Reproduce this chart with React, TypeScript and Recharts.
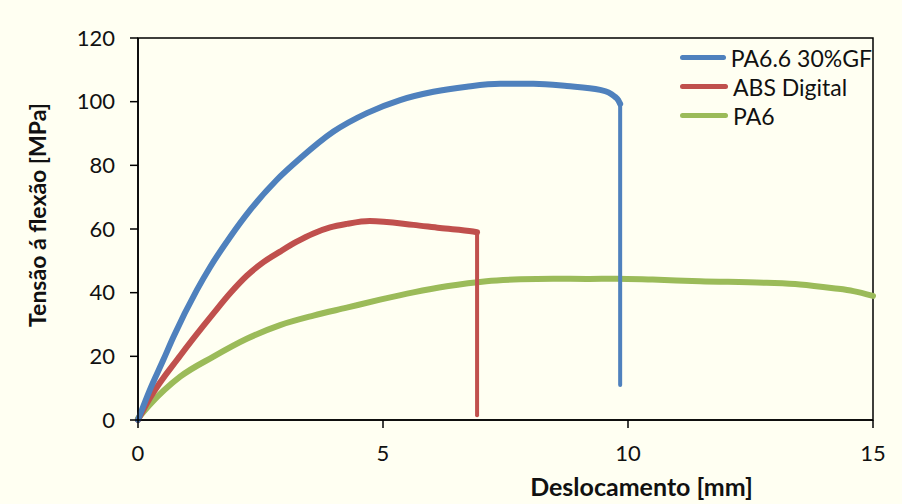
import React from 'react';
import { LineChart, Line, XAxis, YAxis, Label, Legend, ReferenceArea } from 'recharts';

const blueX = [0, 0.24, 0.52, 0.72, 1.2, 1.47, 1.88, 2.29, 2.83, 3.31, 3.99, 4.67, 5.35, 6.03, 6.71, 7.39, 8.07, 8.75, 9.43, 9.6, 9.72, 9.8, 9.84];
const blueY = [0, 9.4, 19, 26, 40.8, 48, 57.5, 66, 75.4, 82.2, 90.6, 96.4, 100.5, 103.1, 104.7, 105.6, 105.6, 104.9, 103.7, 102.9, 101.7, 100.5, 99.3];
const blueDropX = [9.84, 9.84];
const blueDropY = [99.3, 11];

const redX = [0, 0.24, 0.86, 1.54, 1.88, 2.22, 2.56, 2.9, 3.24, 3.58, 3.92, 4.26, 4.73, 5.62, 6.16, 6.84, 6.92];
const redY = [0, 6.8, 20.2, 33.5, 39.8, 45.3, 49.6, 52.9, 56, 58.6, 60.5, 61.6, 62.5, 61.3, 60.3, 59.2, 59];
const redDropX = [6.92, 6.92];
const redDropY = [59, 1.5];

const greenX = [0, 0.24, 0.86, 1.54, 2.22, 2.9, 3.58, 4.26, 4.94, 5.62, 6.3, 7.11, 7.8, 8.47, 9.16, 9.77, 10.5, 11.47, 12.83, 13.51, 14.19, 14.6, 15];
const greenY = [0.5, 4.8, 13.6, 19.9, 25.5, 29.8, 32.8, 35.3, 37.8, 40.1, 42, 43.6, 44.2, 44.4, 44.3, 44.4, 44.1, 43.6, 43.1, 42.6, 41.4, 40.5, 39];

const xTicks = [0, 5, 10, 15];
const yTicks = [0, 20, 40, 60, 80, 100, 120];

const seriesNames = ['PA6.6 30%GF', 'ABS Digital', 'PA6'];
const seriesColors = ['#4F81BD', '#C0504D', '#9BBB59'];

const toPoints = (xs: number[], ys: number[]) => xs.map((x, i) => ({ x, y: ys[i] }));

const FONT = 'Lato, "Noto Sans", sans-serif';

const renderLegend = () => (
  <div style={{ fontFamily: FONT, fontSize: 23, color: '#111', whiteSpace: 'nowrap' }}>
    {seriesNames.map((name, i) => (
      <div key={name} style={{ display: 'flex', alignItems: 'center', height: 29 }}>
        <span style={{ display: 'inline-block', width: 48, height: 5, borderRadius: 3, background: seriesColors[i], marginRight: 5 }} />
        <span>{name}</span>
      </div>
    ))}
  </div>
);

export default function App() {
  return (
    <div style={{ position: 'absolute', left: 0, top: 0, width: 902, height: 504, background: '#FFFFF2' }}>
      <LineChart width={902} height={504} margin={{ top: 38, right: 29, left: 0, bottom: 0 }}>
        <XAxis
          type="number"
          dataKey="x"
          domain={[0, 15]}
          ticks={xTicks}
          height={84}
          tickSize={8}
          tickMargin={17}
          axisLine={{ stroke: '#000', strokeWidth: 1.5 }}
          tickLine={{ stroke: '#000', strokeWidth: 1.5 }}
          tick={{ fill: '#111', fontSize: 22, fontFamily: FONT }}
        >
          <Label
            content={({ viewBox }: any) => (
              <text x={viewBox.x + viewBox.width * 0.685} y={viewBox.y + viewBox.height - 8} textAnchor="middle"
                style={{ fontFamily: FONT, fontSize: 25, fontWeight: 700, fill: '#111' }}>
                Deslocamento [mm]
              </text>
            )}
          />
        </XAxis>
        <YAxis
          type="number"
          dataKey="y"
          domain={[0, 120]}
          ticks={yTicks}
          width={138}
          tickSize={8}
          tickMargin={15}
          axisLine={{ stroke: '#000', strokeWidth: 1.5 }}
          tickLine={{ stroke: '#000', strokeWidth: 1.5 }}
          tick={{ fill: '#111', fontSize: 22, fontFamily: FONT }}
        >
          <Label
            content={({ viewBox }: any) => {
              const cx = 37;
              const cy = viewBox.y + viewBox.height / 2 - 14;
              return (
                <text x={cx} y={cy} textAnchor="middle" dominantBaseline="central" transform={`rotate(-90 ${cx} ${cy})`}
                  style={{ fontFamily: FONT, fontSize: 23, fontWeight: 700, fill: '#111' }}>
                  Tensão á flexão [MPa]
                </text>
              );
            }}
          />
        </YAxis>
        <ReferenceArea x1={0} x2={15} y1={0} y2={120} fill="none" stroke="#000" strokeWidth={1.5} ifOverflow="visible" />
        <Legend
          layout="vertical"
          align="center"
          verticalAlign="middle"
          content={renderLegend}
          wrapperStyle={{ left: 680, top: 43, width: 192, height: 90, overflow: 'hidden' }}
        />
        <Line data={toPoints(greenX, greenY)} dataKey="y" name="PA6" type="monotone" stroke={seriesColors[2]} strokeWidth={6}
          dot={false} activeDot={false} isAnimationActive={false} strokeLinecap="round" />
        <Line data={toPoints(redX, redY)} dataKey="y" name="ABS Digital" type="monotone" stroke={seriesColors[1]} strokeWidth={6}
          dot={false} activeDot={false} isAnimationActive={false} strokeLinecap="round" strokeLinejoin="round" />
        <Line data={toPoints(redDropX, redDropY)} dataKey="y" type="linear" stroke={seriesColors[1]} strokeWidth={4}
          dot={false} activeDot={false} isAnimationActive={false} strokeLinecap="round" legendType="none" />
        <Line data={toPoints(blueX, blueY)} dataKey="y" name="PA6.6 30%GF" type="monotone" stroke={seriesColors[0]} strokeWidth={6}
          dot={false} activeDot={false} isAnimationActive={false} strokeLinecap="round" strokeLinejoin="round" />
        <Line data={toPoints(blueDropX, blueDropY)} dataKey="y" type="linear" stroke={seriesColors[0]} strokeWidth={4}
          dot={false} activeDot={false} isAnimationActive={false} strokeLinecap="round" legendType="none" />
      </LineChart>
    </div>
  );
}
